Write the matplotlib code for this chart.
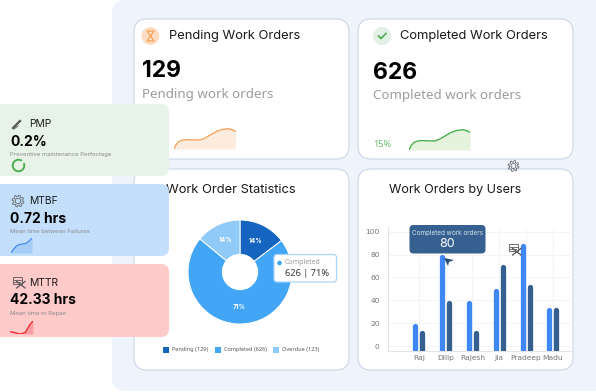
import matplotlib
matplotlib.use('Agg')
import matplotlib.pyplot as plt
from matplotlib.patches import FancyBboxPatch, Circle, Rectangle, Arc, Polygon
from matplotlib.transforms import ScaledTranslation
import numpy as np

# data
users = ['Raj', 'Dilip', 'Rajesh', 'Jia', 'Pradeep', 'Madu']
completed_orders = [20, 80, 40, 50, 90, 34]
other_orders = [14, 40, 14, 71, 54, 34]
y_ticks = [0, 20, 40, 60, 80, 100]

status_names = ['Pending', 'Completed', 'Overdue']
status_counts = [129, 626, 123]
status_colors = ['#1565C0', '#42A5F5', '#90CAF9']

# sparklines (0 = baseline)
pending_x = [0, 2, 5, 9, 14, 20, 26, 30, 36, 42, 48, 54, 58, 61]
pending_y = [0, 6, 11, 13, 13.5, 13, 13, 15, 20, 25, 28, 29, 27.5, 25]
completed_x = pending_x
completed_y = pending_y
mtbf_x = [0, 3, 6, 9, 12, 15, 18, 21]
mtbf_y = [0, 4, 7, 8, 8.5, 9, 11, 14]
mttr_x = [0, 5, 10, 15, 18, 20, 23]
mttr_y = [2, 1, 0, 1, 5, 8, 11]

W, H = 596, 392
TITLE_FONT = 'Inter'
NUM_FONT = 'Noto Sans'

fig = plt.figure(figsize=(W / 100, H / 100), dpi=100, facecolor='white')


def px_axes(x0, y0, x1, y1, zorder):
    # axes from pixel box, y counted from the top
    ax = fig.add_axes([x0 / W, 1 - y1 / H, (x1 - x0) / W, (y1 - y0) / H], zorder=zorder)
    ax.patch.set_alpha(0)
    return ax


def round_box(ax, x0, y0, x1, y1, r, fc, ec='none', lw=0.8):
    ax.add_patch(FancyBboxPatch((x0, y0), x1 - x0, y1 - y0, boxstyle=f'round,pad=0,rounding_size={r}',
                                fc=fc, ec=ec, lw=lw))


def spark(box, xs, ys, line_color, fill_color, ymax, z, fill_from=0, lw=1.0):
    ax = px_axes(*box, zorder=z)
    fx = [x for x in xs if x >= fill_from]
    fy = ys[len(xs) - len(fx):]
    ax.fill_between(fx, 0, fy, color=fill_color, lw=0)
    ax.plot(xs, ys, color=line_color, lw=lw, solid_capstyle='round')
    ax.set_xlim(xs[0], xs[-1])
    ax.set_ylim(0, ymax)
    ax.axis('off')
    return ax


def gear(ax, cx, cy, r, color='#555555'):
    t = np.linspace(0, 2 * np.pi, 49)
    rr = r * (0.85 + 0.15 * np.sign(np.sin(8 * t)))
    ax.plot(cx + rr * np.cos(t), cy + rr * np.sin(t), color=color, lw=0.5)
    ax.add_patch(Circle((cx, cy), r * 0.45, fc='none', ec=color, lw=0.5))


def tool_icon(ax, cx, cy, s, color='#555555'):
    ax.add_patch(Rectangle((cx - s, cy - s * 0.9), s * 1.5, s * 1.2, fc='none', ec=color, lw=0.6))
    ax.plot([cx - s * 0.8, cx + 0.4 * s], [cy - s * 0.4, cy - s * 0.4], color=color, lw=0.6)
    ax.plot([cx - s * 0.8, cx + 0.2 * s], [cy, cy], color=color, lw=0.6)
    ax.plot([cx - s * 0.4, cx + s], [cy - s * 0.1, cy + s], color=color, lw=0.9)
    ax.plot([cx + s, cx - s * 0.4], [cy - s * 0.1, cy + s], color=color, lw=0.9)


# background layer
bg = px_axes(0, 0, W, H, 0)
bg.set_xlim(0, W)
bg.set_ylim(H, 0)
bg.axis('off')
round_box(bg, 112, 0, 640, 391, 13, '#EFF3FC')
for box in [(134, 19, 349, 159), (358, 19, 573, 159), (134, 169, 349, 370), (358, 169, 573, 370)]:
    round_box(bg, *box, 13, 'white', '#CBD6E8')

bg.add_patch(Circle((150.5, 36), 9, fc='#FDDCC4', ec='none'))
bg.add_patch(Polygon([(147, 31), (154, 31), (150.5, 36), (154, 41), (147, 41), (150.5, 36)], fc='none', ec='#F59A4C', lw=0.8))
bg.add_patch(Circle((382, 36), 9, fc='#E3F0E6', ec='none'))
bg.plot([378.5, 381, 386], [36, 38.5, 33.5], color='#4CAF50', lw=1.2)

bg.text(169, 35.5, 'Pending Work Orders', fontsize=9.3, family=TITLE_FONT, color='#1a1a1a', va='center')
bg.text(400, 35.5, 'Completed Work Orders', fontsize=9.3, family=TITLE_FONT, color='#1a1a1a', va='center')
bg.text(142, 71, '129', fontsize=16.5, family=TITLE_FONT, weight='bold', color='black', va='center')
bg.text(373, 72.5, '626', fontsize=16.5, family=TITLE_FONT, weight='bold', color='black', va='center')
bg.text(142, 94, 'Pending work orders', fontsize=9.6, family=NUM_FONT, color='#9c9c9c', va='center')
bg.text(373, 95.5, 'Completed work orders', fontsize=9.6, family=NUM_FONT, color='#9c9c9c', va='center')
bg.text(373, 144, '15%', fontsize=6.5, family=NUM_FONT, color='#66BB6A', va='center')
bg.text(166, 190, 'Work Order Statistics', fontsize=9.3, family=TITLE_FONT, color='#1a1a1a', va='center')
bg.text(389, 190, 'Work Orders by Users', fontsize=9.05, family=TITLE_FONT, color='#1a1a1a', va='center')

# legend row under the pie
for x, name, count, col in zip([163, 215, 273], status_names, status_counts, status_colors):
    bg.add_patch(Rectangle((x, 347), 5.5, 5.5, fc=col, ec='none'))
    bg.text(x + 9, 349.8, f'{name} ({count})', fontsize=4.0, family=NUM_FONT, color='#555555', va='center')

# sparklines on the two top cards
spark((174, 128, 235.5, 149), pending_x, pending_y, '#F7A55E', '#FDEBDD', 30, 1)
spark((409, 129, 470, 150), completed_x, completed_y, '#4CAF50', '#E5F3DC', 30, 1)

# donut
pie_ax = px_axes(188, 220, 292, 324, 1)
pie_ax.pie(status_counts, colors=status_colors, startangle=90, counterclock=False, radius=1,
           wedgeprops=dict(width=0.66, edgecolor='white', linewidth=0.7),
           autopct=lambda p: f'{int(p)}%', pctdistance=0.67,
           textprops=dict(color='white', fontsize=4.6, weight='bold', family=TITLE_FONT))
pie_ax.set_xlim(-1, 1)
pie_ax.set_ylim(-1, 1)

# bars
bar_ax = px_axes(388, 227, 573, 350.7, 1)
pos = np.arange(len(users))
y_bottom, y_top = -4.1, 104.1
bar_ax.set_xlim(-1.15, 5.75)
bar_ax.set_ylim(y_bottom, y_top)
cap_shift = bar_ax.transData + ScaledTranslation(0, -2.5 / 100, fig.dpi_scale_trans)
bar_ax.vlines(pos - 0.13, y_bottom, completed_orders, color='#3F87F5', lw=3.8, capstyle='round', transform=cap_shift, zorder=3)
bar_ax.vlines(pos + 0.13, y_bottom, other_orders, color='#35608F', lw=3.8, capstyle='round', transform=cap_shift, zorder=3)
bar_ax.set_xticks(pos, users)
bar_ax.set_yticks(y_ticks)
bar_ax.grid(True, color='#F4F5F7', lw=0.8)
bar_ax.set_axisbelow(True)
bar_ax.tick_params(length=0, labelsize=5.4, labelcolor='#777777', pad=3)
bar_ax.tick_params(axis='y', pad=6)
for name in ['top', 'right']:
    bar_ax.spines[name].set_visible(False)
for name in ['left', 'bottom']:
    bar_ax.spines[name].set_color('#E2E4E8')

# top layer: left cards, tooltips, floating icons
top = px_axes(0, 0, W, H, 3)
top.set_xlim(0, W)
top.set_ylim(H, 0)
top.axis('off')
round_box(top, -20, 104, 169, 176, 8, '#E8F3E8')
round_box(top, -20, 184, 169, 256, 8, '#C3DFFB')
round_box(top, -20, 264, 169, 337, 8, '#FFCACA')

metric_names = ['PMP', 'MTBF', 'MTTR']
metric_values = ['0.2%', '0.72 hrs', '42.33 hrs']
metric_notes = ['Preventive maintenance Perfectage', 'Mean time between Failures', 'Mean time to Repair']
for name, val, note, y in zip(metric_names, metric_values, metric_notes, [124, 201, 283]):
    top.text(29.5, y, name, fontsize=7.4, family=TITLE_FONT, color='#1a1a1a', va='center')
    top.text(10.5, y + 17.5, val, fontsize=10, family=TITLE_FONT, weight='bold', color='black', va='center')
    top.text(10.5, y + 30, note, fontsize=4.3, family=TITLE_FONT, color='#8a8a8a', va='center')

top.plot([13, 20], [128, 121], color='#555555', lw=1.6)
top.plot([14, 18], [129, 126], color='#555555', lw=0.6)
gear(top, 18, 201, 6)
tool_icon(top, 19, 282, 6)
gear(top, 513.5, 166, 5.5)
tool_icon(top, 515, 249, 6)
top.add_patch(Arc((18.5, 165.5), 11.5, 11.5, theta1=-25, theta2=305, ec='#4CAF50', lw=1.4))

# tooltip over the bars
round_box(top, 409.5, 225, 485.5, 253.5, 4, '#35608F')
top.text(447.5, 232.5, 'Completed work orders', fontsize=4.6, family=TITLE_FONT, color='#D6E2F0', ha='center', va='center')
top.text(447.5, 243.5, '80', fontsize=9, family=TITLE_FONT, color='white', ha='center', va='center')
top.add_patch(Polygon([(444, 258), (454, 260), (449, 262), (448, 266)], fc='#2C4E75', ec='none'))

# tooltip over the donut
round_box(top, 274, 254.5, 336.5, 282, 3, 'white', '#A9D4FA', 0.9)
top.add_patch(Circle((279.5, 263), 2.3, fc='#42A5F5', ec='none'))
top.text(285, 263, 'Completed', fontsize=5, family=NUM_FONT, color='#9a9a9a', va='center')
top.text(285, 273.5, f'{status_counts[1]} | 71%', fontsize=6.6, family=NUM_FONT, color='#333333', va='center')

# small sparklines inside the left cards
spark((11, 238, 32, 253), mtbf_x, mtbf_y, '#4D8DF5', '#A6CDF7', 14, 4)
spark((10, 321, 33, 334), mttr_x, mttr_y, '#F0282D', '#FF9FA3', 11, 4, fill_from=15)

fig.savefig('out.png', dpi=100)
